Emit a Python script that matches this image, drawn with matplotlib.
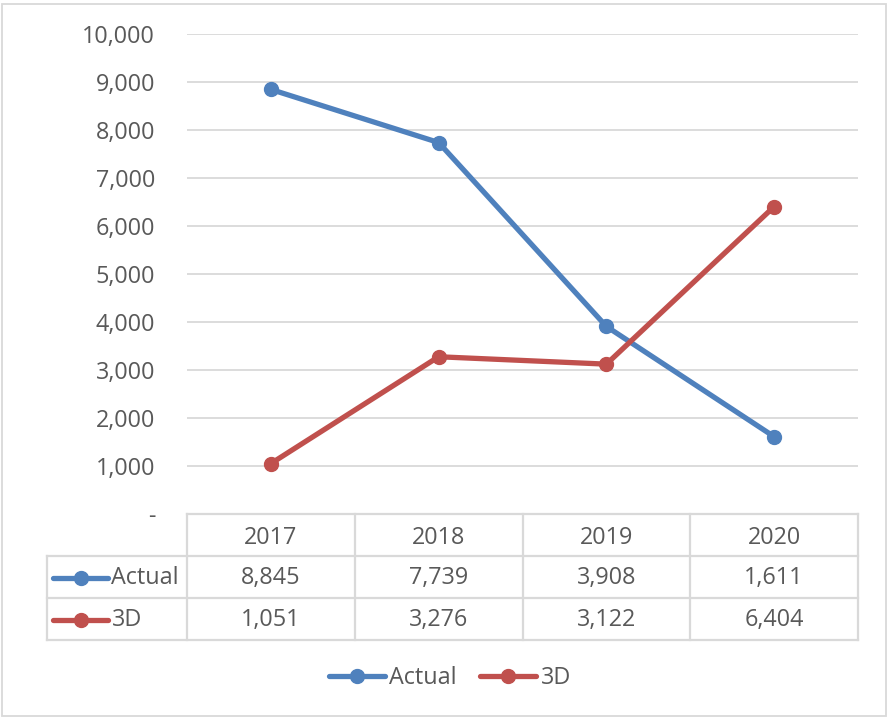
import matplotlib
matplotlib.use("Agg")
import matplotlib.pyplot as plt
from matplotlib.patches import Rectangle
from matplotlib.ticker import FuncFormatter

# chart data
years = ["2017", "2018", "2019", "2020"]
actual = [8845, 7739, 3908, 1611]
three_d = [1051, 3276, 3122, 6404]
series_names = ["Actual", "3D"]
y_ticks = [0, 1000, 2000, 3000, 4000, 5000, 6000, 7000, 8000, 9000, 10000]

BLUE = "#4f81bd"
RED = "#c0504d"
GRID = "#d9d9d9"
TXT = "#595959"
FS = 16.8

plt.rcParams["font.family"] = ["Open Sans", "DejaVu Sans"]

W, H = 889, 718
fig = plt.figure(figsize=(W / 100, H / 100), dpi=100)


def fx(px):
    return px / W


def fy(py):
    return 1 - py / H


# outer chart border
fig.add_artist(Rectangle((fx(2), fy(716)), fx(884), 712 / H, transform=fig.transFigure,
                         fill=False, edgecolor=GRID, lw=1.3))

# plot area
ax = fig.add_axes([fx(187), fy(514), fx(671), 480 / H])
x = list(range(len(years)))
l1, = ax.plot(x, actual, color=BLUE, lw=3.8, marker="o", ms=10, label=series_names[0],
              solid_capstyle="round", zorder=3)
l2, = ax.plot(x, three_d, color=RED, lw=3.8, marker="o", ms=10, label=series_names[1],
              solid_capstyle="round", zorder=3)
ax.set_xlim(-0.5, 3.5)
ax.set_ylim(0, 10000)
ax.set_yticks(y_ticks)
ax.yaxis.set_major_formatter(FuncFormatter(lambda v, p: "-" if v == 0 else "{:,}".format(int(v))))
ax.tick_params(axis="y", length=0, pad=23, labelsize=FS, labelcolor=TXT)
ax.set_xticks([])
for s in ax.spines.values():
    s.set_visible(False)
ax.grid(axis="y", color=GRID, lw=1.3)
ax.set_axisbelow(True)

# data table below the plot
tb = fig.add_axes([fx(187), fy(640), fx(671), 126 / H])
tb.set_xlim(-0.5, 3.5)
tb.set_ylim(3, 0)
tb.axis("off")
left = (47 - 187) / 168 - 0.5
for v in [-0.5, 0.5, 1.5, 2.5, 3.5]:
    tb.plot([v, v], [0, 3], color=GRID, lw=1.6, clip_on=False)
tb.plot([left, left], [1, 3], color=GRID, lw=1.6, clip_on=False)
tb.plot([-0.5, 3.5], [0, 0], color=GRID, lw=1.6, clip_on=False)
for r in [1, 2, 3]:
    tb.plot([left, 3.5], [r, r], color=GRID, lw=1.6, clip_on=False)

for i, yr in enumerate(years):
    tb.text(i, 0.56, yr, ha="center", va="center", fontsize=FS, color=TXT)
rows = [(series_names[0], actual, BLUE), (series_names[1], three_d, RED)]
k0 = (53 - 187) / 168 - 0.5
k1 = (108 - 187) / 168 - 0.5
for r, (name, vals, col) in enumerate(rows):
    yc = 1.52 + r
    for i, v in enumerate(vals):
        tb.text(i, yc, "{:,}".format(v), ha="center", va="center", fontsize=FS, color=TXT)
    tb.plot([k0, k1], [yc, yc], color=col, lw=3.8, solid_capstyle="round", clip_on=False)
    tb.plot([(k0 + k1) / 2], [yc], "o", color=col, ms=10, clip_on=False)
    tb.text(k1 + 0.02, yc, name, ha="left", va="center", fontsize=FS, color=TXT)

# legend
fig.legend(handles=[l1, l2], loc="center", bbox_to_anchor=(fx(450), fy(678)), ncol=2,
           frameon=False, fontsize=FS, labelcolor=TXT, handlelength=2.4,
           handletextpad=0.2, columnspacing=1.0)

fig.savefig("out.png", dpi=100)
